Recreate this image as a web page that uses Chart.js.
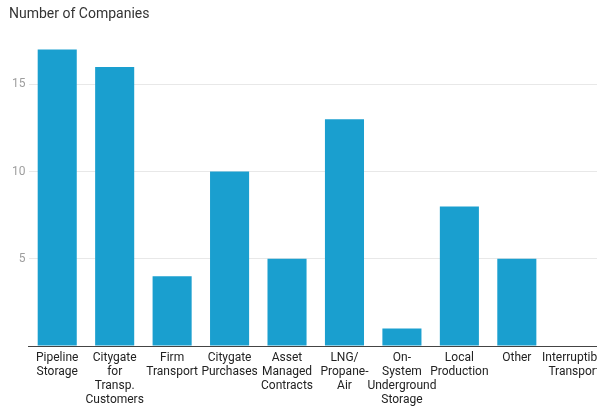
<!DOCTYPE html>
<html>
<head>
<meta charset="utf-8">
<script src="https://cdn.jsdelivr.net/npm/chart.js@4/dist/chart.umd.min.js"></script>
<style>
  html, body { margin: 0; padding: 0; background: #fff; overflow: hidden; }
  #wrap { width: 597px; height: 408px; overflow: hidden; }
  #box { width: 603px; height: 408px; position: relative; }
</style>
</head>
<body>
<div id="wrap"><div id="box"><canvas id="chart"></canvas></div></div>
<script>
// data
const categories = [
    ['Pipeline', 'Storage'],
    ['Citygate', 'for', 'Transp.', 'Customers'],
    ['Firm', 'Transport'],
    ['Citygate', 'Purchases'],
    ['Asset', 'Managed', 'Contracts'],
    ['LNG/', 'Propane-', 'Air'],
    ['On-', 'System', 'Underground', 'Storage'],
    ['Local', 'Production'],
    ['Other'],
    ['Interruptible', 'Transport']
];
const companies = [17, 16, 4, 10, 5, 13, 1, 8, 5, 0];
const yTicks = [0, 5, 10, 15];

const barColor = '#1a9fcf';

let ctx = document.getElementById('chart').getContext('2d');
let chart = new Chart(ctx, {
    type: 'bar',
    data: {
        labels: categories,
        datasets: [
            { label: 'Number of Companies', data: companies, backgroundColor: barColor, borderWidth: 0,
              barPercentage: 0.68, categoryPercentage: 1 }
        ]
    },
    options: {
        responsive: true,
        maintainAspectRatio: false,
        animation: false,
        layout: { padding: { left: 9, right: 0, top: 0, bottom: 0 } },
        plugins: {
            legend: { display: false },
            tooltip: { enabled: false },
            title: {
                display: true,
                text: 'Number of Companies',
                align: 'start',
                color: '#333',
                font: { family: 'Roboto', size: 14, weight: 'normal', lineHeight: 1.15 },
                padding: { top: 6, bottom: 10 }
            }
        },
        scales: {
            x: {
                grid: { display: false, drawTicks: false },
                border: { display: true, color: '#444', width: 1 },
                ticks: {
                    color: '#222', padding: 5, maxRotation: 0, autoSkip: false,
                    font: { family: 'Roboto', size: 12, lineHeight: 14 / 12 }
                },
                afterFit: (scale) => { scale.paddingLeft = 0; scale.paddingRight = 0; scale.height = 62; }
            },
            y: {
                min: 0,
                max: 18,
                afterBuildTicks: (scale) => { scale.ticks = yTicks.map(v => ({ value: v })); },
                afterFit: (scale) => { scale.width = 19.5; },
                grid: { color: (c) => c.tick && c.tick.value === 0 ? 'rgba(0,0,0,0)' : '#e8e8e8', drawTicks: false },
                border: { display: false },
                ticks: {
                    color: '#9e9e9e', padding: 3,
                    font: { family: 'Roboto', size: 12 },
                    callback: (v) => v === 0 ? '' : v
                }
            }
        }
    }
});
</script>
</body>
</html>
